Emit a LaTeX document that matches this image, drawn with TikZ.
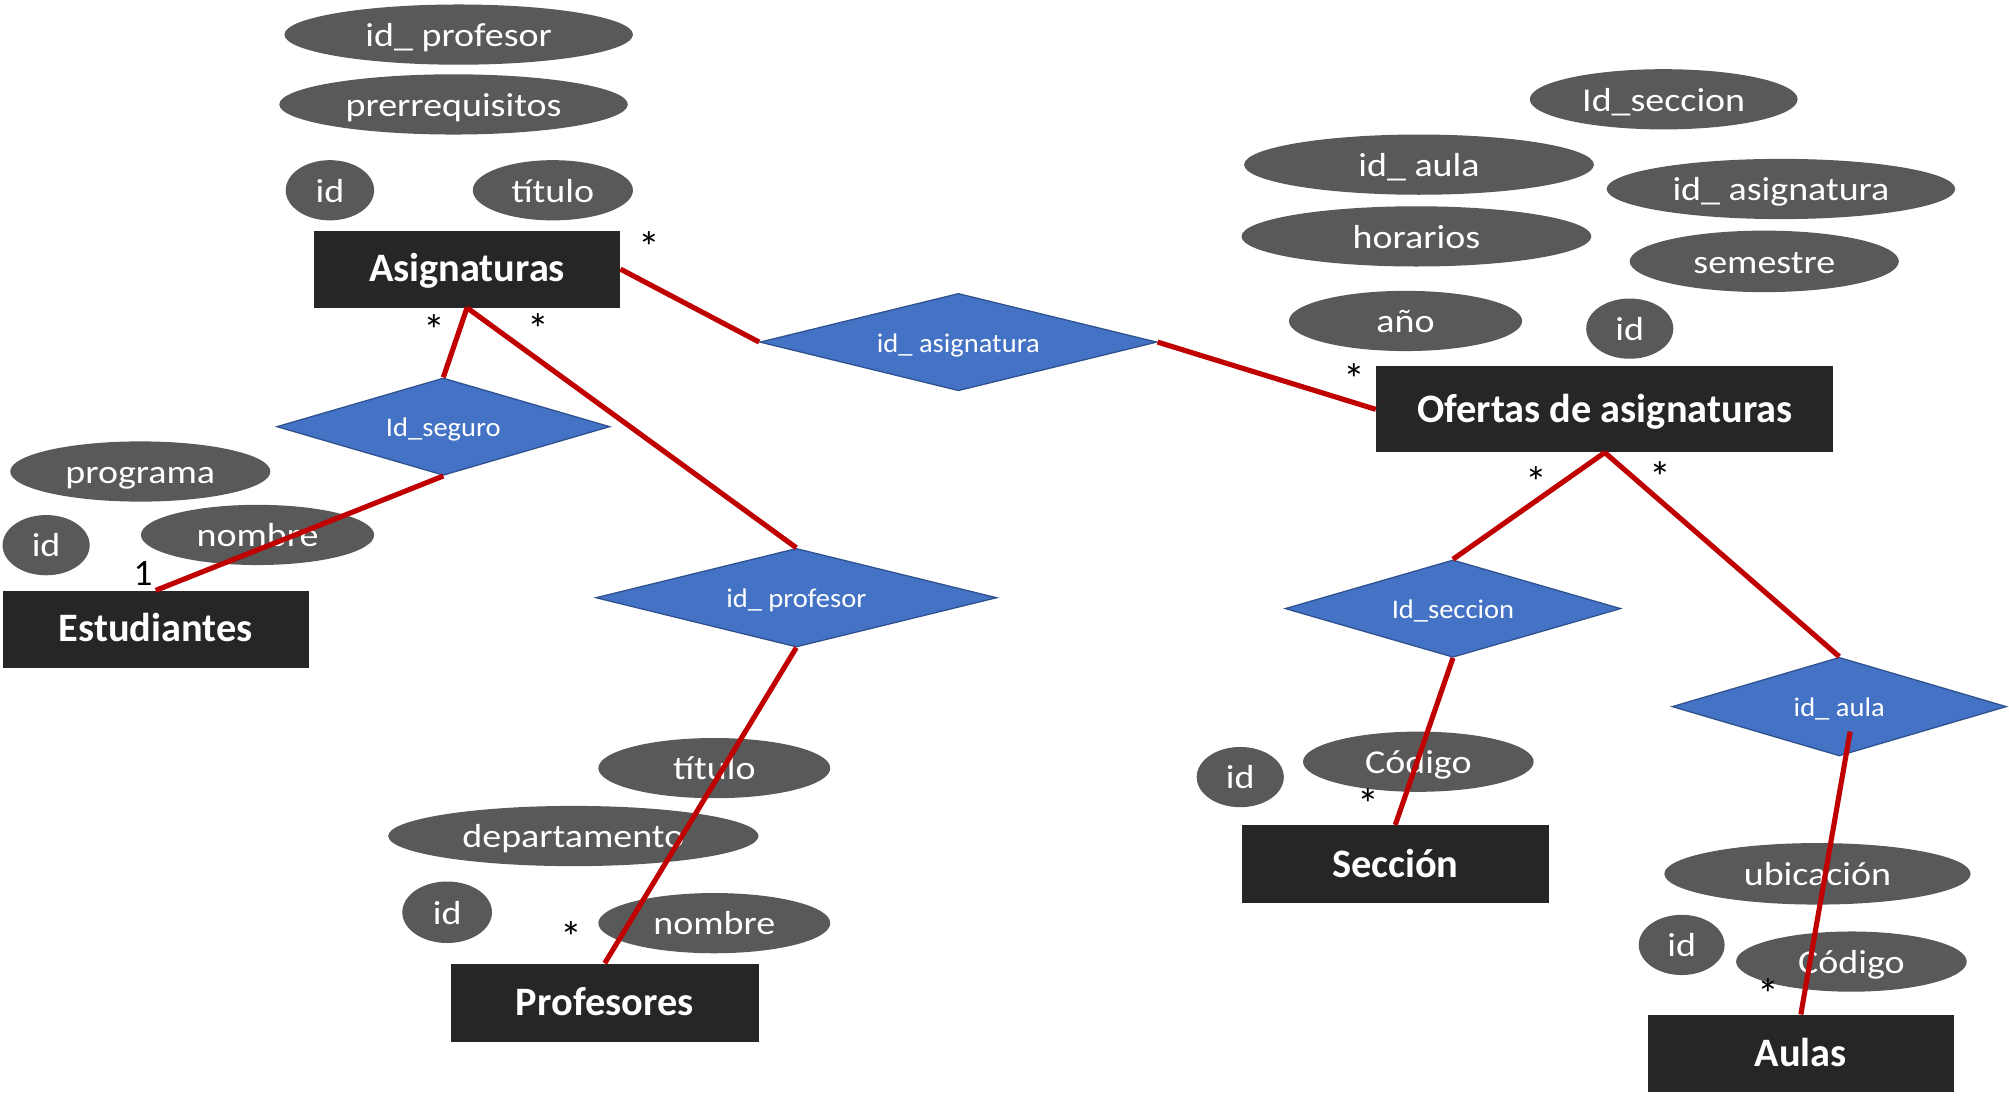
\documentclass[tikz,border=0pt]{standalone}
\usepackage{fontspec}
\setmainfont{Carlito}
\newfontfamily\attrfont{Carlito}[FakeStretch=1.14]
\newfontfamily\relfont{Carlito}[FakeStretch=1.06]
\usetikzlibrary{shapes.geometric,calc}
\definecolor{entc}{HTML}{262626}
\definecolor{attc}{HTML}{595959}
\definecolor{relc}{HTML}{4472C4}
\definecolor{relb}{HTML}{2F528F}
\definecolor{linc}{HTML}{C00000}
\begin{document}
\begin{tikzpicture}[x=1bp,y=-1bp,
  entity/.style={rectangle, fill=entc, text=white, inner sep=0pt, text height=24bp, text depth=4bp, font=\fontsize{31.5bp}{36bp}\selectfont\bfseries},
  attr/.style={ellipse, fill=attc, text=white, inner sep=0pt, minimum height=47bp, text height=20bp, text depth=1.6bp, font=\attrfont\fontsize{26bp}{30bp}\selectfont},
  rel/.style={diamond, aspect=4, fill=relc, draw=relb, line width=1bp, inner sep=0pt, minimum height=76bp, text height=17bp, text depth=1.4bp, text=white, font=\relfont\fontsize{21bp}{25bp}\selectfont},
  link/.style={draw=linc, line width=4bp},
  mult/.style={inner sep=0pt, text=black, font=\fontsize{34bp}{38bp}\selectfont},
  multone/.style={inner sep=0pt, text=black, font=\fontsize{29bp}{33bp}\selectfont}]
\path[use as bounding box, fill=white] (0,0) rectangle (1568,862);

% attributes
\node[attr, minimum width=272bp] (a1) at (358,27) {id\_ profesor};
\node[attr, minimum width=272bp] (a2) at (354,81.5) {prerrequisitos};
\node[attr, minimum width=69bp] (a3) at (257.5,148.5) {id};
\node[attr, minimum width=125bp] (a4) at (431.5,148.5) {título};
\node[attr, minimum width=203bp] (a5) at (109.5,368) {programa};
\node[attr, minimum width=68bp] (a6) at (36,425.5) {id};
\node[attr, minimum width=182bp] (a7) at (201,417.5) {nombre};
\node[attr, minimum width=181bp] (a8) at (557.5,599.5) {título};
\node[attr, minimum width=289bp] (a9) at (447.5,652.5) {departamento};
\node[attr, minimum width=70bp, minimum height=48bp] (a10) at (349,712) {id};
\node[attr, minimum width=181bp] (a11) at (557.5,720.5) {nombre};
\node[attr, minimum width=209bp] (a12) at (1298.5,77.5) {Id\_seccion};
\node[attr, minimum width=273bp] (a13) at (1107.5,128.5) {id\_ aula};
\node[attr, minimum width=272bp] (a14) at (1390,147.5) {id\_ asignatura};
\node[attr, minimum width=273bp] (a15) at (1105.5,184.5) {horarios};
\node[attr, minimum width=210bp, minimum height=48bp] (a16) at (1377,204) {semestre};
\node[attr, minimum width=182bp] (a17) at (1097,250.5) {año};
\node[attr, minimum width=68bp] (a18) at (1272,256.5) {id};
\node[attr, minimum width=68bp] (a19) at (968,606.5) {id};
\node[attr, minimum width=180bp] (a20) at (1107,594.5) {Código};
\node[attr, minimum width=239bp, minimum height=48bp] (a21) at (1418.5,682) {ubicación};
\node[attr, minimum width=67bp] (a22) at (1312.5,737.5) {id};
\node[attr, minimum width=180bp] (a23) at (1445,750.5) {Código};

% entities
\node[entity, minimum width=239bp, minimum height=60bp] (asig) at (364.5,210) {Asignaturas};
\node[entity, minimum width=239bp, minimum height=60bp] (est) at (121.5,491) {Estudiantes};
\node[entity, minimum width=240bp, minimum height=61bp] (prof) at (472,782.5) {Profesores};
\node[entity, minimum width=357bp, minimum height=67bp] (of) at (1252.5,319.5) {Ofertas de asignaturas};
\node[entity, minimum width=240bp, minimum height=61bp] (sec) at (1089,674.5) {Sección};
\node[entity, minimum width=239bp, minimum height=60bp] (aul) at (1405.5,822) {Aulas};

% relationships
\node[rel, minimum width=310bp] (ra) at (748,267) {id\_ asignatura};
\node[rel, minimum width=260bp] (rs) at (346,333) {Id\_seguro};
\node[rel, minimum width=313bp, minimum height=77bp] (rp) at (621.5,466.5) {id\_ profesor};
\node[rel, minimum width=262bp] (rsec) at (1134,475) {Id\_seccion};
\node[rel, minimum width=261bp, minimum height=77bp] (rau) at (1435.5,551.5) {id\_ aula};

\coordinate (rauin) at ($(rau.center)+(8.5,19.5)$);

% connectors
\draw[link] (asig.east) -- (ra.west);
\draw[link] (ra.east) -- (of.west);
\draw[link] (asig.south) -- (rs.north);
\draw[link] (rs.south) -- (est.north);
\draw[link] (asig.south) -- (rp.north);
\draw[link] (rp.south) -- (prof.north);
\draw[link] (of.south) -- (rsec.north);
\draw[link] (of.south) -- (rau.north);
\draw[link] (rsec.south) -- (sec.north);
\draw[link] (rauin) -- (aul.north);

% multiplicities
\node[mult] (m1) at (506.5,193) {*};
\node[mult] (m2) at (339,257.5) {*};
\node[mult] (m3) at (420.5,256.5) {*};
\node[mult] (m4) at (1057,296) {*};
\node[mult] (m5) at (1199,376.5) {*};
\node[mult] (m6) at (1296,372.5) {*};
\node[mult] (m7) at (446,731.5) {*};
\node[mult] (m8) at (1068,627.5) {*};
\node[mult] (m9) at (1380,775.5) {*};
\node[multone] (m10) at (111.6,447.5) {1};
\end{tikzpicture}
\end{document}
